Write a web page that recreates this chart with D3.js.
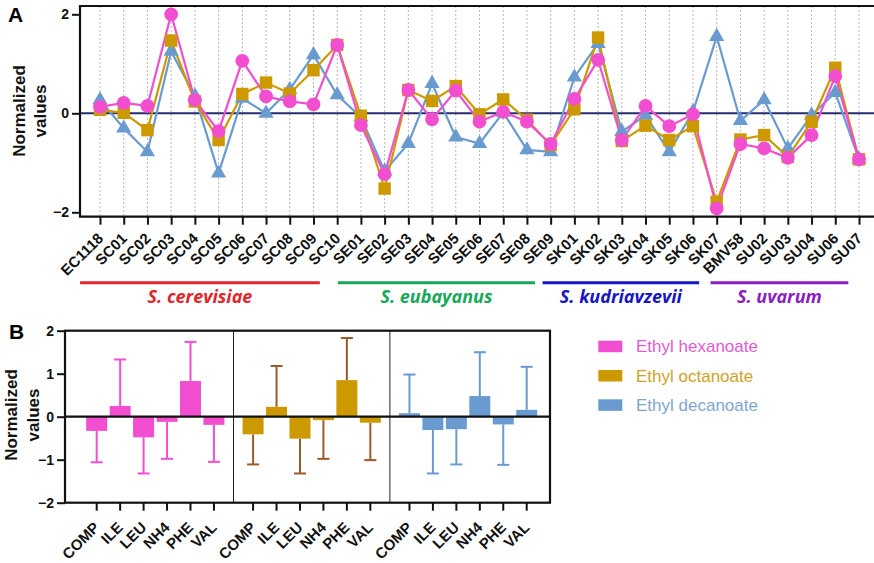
<!DOCTYPE html>
<html>
<head>
<meta charset="utf-8">
<script src="https://cdn.jsdelivr.net/npm/d3@7"></script>
<style>
  html, body { margin: 0; padding: 0; background: #fff; }
  svg { display: block; font-family: "Liberation Sans", Arial, sans-serif; }
</style>
</head>
<body>
<svg id="chart" width="874" height="563"></svg>
<script>
// ---------- Panel A data: normalized ester values per strain ----------
const strains = ["EC1118","SC01","SC02","SC03","SC04","SC05","SC06","SC07","SC08","SC09","SC10",
  "SE01","SE02","SE03","SE04","SE05","SE06","SE07","SE08","SE09",
  "SK01","SK02","SK03","SK04","SK05","SK06","SK07",
  "BMV58","SU02","SU03","SU04","SU06","SU07"];

const hexanoateA = [0.13,0.21,0.15,2.00,0.27,-0.36,1.06,0.34,0.24,0.18,1.38,
  -0.24,-1.23,0.47,-0.12,0.46,-0.17,0.03,-0.17,-0.62,
  0.29,1.08,-0.54,0.15,-0.26,-0.02,-1.92,
  -0.62,-0.71,-0.90,-0.44,0.75,-0.93];
const octanoateA = [0.07,0.01,-0.34,1.47,0.24,-0.54,0.39,0.62,0.40,0.87,1.38,
  -0.05,-1.52,0.47,0.25,0.55,-0.02,0.28,-0.13,-0.64,
  0.08,1.53,-0.56,-0.25,-0.54,-0.26,-1.79,
  -0.53,-0.44,-0.88,-0.17,0.92,-0.93];
const decanoateA = [0.27,-0.30,-0.78,1.25,0.35,-1.21,0.30,0.00,0.48,1.18,0.37,
  -0.08,-1.17,-0.61,0.60,-0.48,-0.61,0.02,-0.74,-0.78,
  0.73,1.41,-0.37,-0.04,-0.78,0.03,1.55,
  -0.15,0.27,-0.71,-0.04,0.42,-0.93];

const species = ["S. cerevisiae","S. eubayanus","S. kudriavzevii","S. uvarum"];
const yTicksA = [-2, 0, 2];

// ---------- Panel B data: mean ± SD per nitrogen source ----------
const nitrogen = ["COMP","ILE","LEU","NH4","PHE","VAL"];
const hexanoateMean = [-0.33,0.25,-0.48,-0.12,0.83,-0.19];
const hexanoateSD   = [0.73,1.08,0.84,0.86,0.91,0.86];
const octanoateMean = [-0.41,0.23,-0.51,-0.08,0.85,-0.14];
const octanoateSD   = [0.70,0.95,0.81,0.90,0.98,0.87];
const decanoateMean = [0.08,-0.31,-0.29,0.48,-0.18,0.16];
const decanoateSD   = [0.90,1.01,0.82,1.02,0.94,1.00];
const yTicksB = [-2,-1,0,1,2];

const esters = ["Ethyl hexanoate","Ethyl octanoate","Ethyl decanoate"];

// ---------- styling ----------
const C = {
  pink: "#F24FD0", gold: "#CC9A00", blue: "#6A9BD0",
  goldErr: "#9A5A2C", zero: "#262B6E", grid: "#b8b8b8"
};
const speciesColors = ["#E3262B", "#17A85A", "#1616C4", "#8B1FBE"];
const legendText = ["#E25AD3", "#CFA325", "#7FA5CE"];

const svg = d3.select("#chart");
const bold = "bold";

// =================== Panel A ===================
const A = { left: 80, right: 876, top: 6, bottom: 216.7 };
const xA = d3.scalePoint().domain(strains).range([100, 859]);
const yA = d3.scaleLinear().domain([-2, 2]).range([212.3, 14.3]);

const gA = svg.append("g");

// dotted vertical guides at each strain
gA.selectAll("line.grid").data(strains).enter().append("line")
  .attr("x1", d => xA(d)).attr("x2", d => xA(d))
  .attr("y1", A.top).attr("y2", A.bottom)
  .attr("stroke", C.grid).attr("stroke-width", 1).attr("stroke-dasharray", "2,2");

// zero reference line
gA.append("line").attr("x1", A.left).attr("x2", A.right)
  .attr("y1", yA(0)).attr("y2", yA(0))
  .attr("stroke", C.zero).attr("stroke-width", 2);

// frame: top, left, bottom
gA.append("path")
  .attr("d", `M${A.right},${A.top}H${A.left}V${A.bottom}H${A.right}`)
  .attr("fill", "none").attr("stroke", "#111").attr("stroke-width", 2.2);

// y axis ticks
const yAxisA = d3.axisLeft(yA).tickValues(yTicksA).tickSize(8).tickPadding(3).tickFormat(d3.format("d"));
gA.append("g").attr("transform", `translate(${A.left},0)`).call(yAxisA)
  .call(g => g.select(".domain").remove())
  .call(g => g.selectAll("line").attr("stroke", "#111").attr("stroke-width", 2))
  .call(g => g.selectAll("text").attr("font-size", 14).attr("font-weight", bold)
    .attr("fill", "#111").attr("font-family", "Liberation Sans, Arial, sans-serif"));

// x axis ticks with rotated strain labels
const xAxisA = d3.axisBottom(xA).tickSize(8).tickPadding(4);
gA.append("g").attr("transform", `translate(0,${A.bottom})`).call(xAxisA)
  .call(g => g.select(".domain").remove())
  .call(g => g.selectAll("line").attr("stroke", "#111").attr("stroke-width", 2))
  .call(g => g.selectAll("text")
    .attr("font-size", 15).attr("font-weight", bold).attr("fill", "#111")
    .attr("font-family", "Liberation Sans, Arial, sans-serif")
    .attr("text-anchor", "end").attr("dy", "0.35em")
    .attr("transform", "translate(0,19) rotate(-45)").attr("x", 0).attr("y", 0));

// series lines and markers (decanoate beneath, hexanoate on top)
const lineA = d3.line().x((d, i) => xA(strains[i])).y(d => yA(d));
const seriesA = [
  { vals: decanoateA, color: C.blue, shape: d3.symbolTriangle, size: 100 },
  { vals: octanoateA, color: C.gold, shape: d3.symbolSquare, size: 155 },
  { vals: hexanoateA, color: C.pink, shape: d3.symbolCircle, size: 150 }
];
seriesA.forEach(s => {
  gA.append("path").datum(s.vals).attr("d", lineA)
    .attr("fill", "none").attr("stroke", s.color).attr("stroke-width", 2.2);
});
seriesA.forEach(s => {
  gA.selectAll(null).data(s.vals).enter().append("path")
    .attr("d", d3.symbol().type(s.shape).size(s.size))
    .attr("transform", (d, i) => `translate(${xA(strains[i])},${yA(d)})`)
    .attr("fill", s.color);
});

// species grouping bars under the strain labels
const speciesSpan = [[-0.84, 9.27], [10.03, 18.34], [18.66, 25.26], [25.74, 31.55]];
const idxToX = d3.scaleLinear().domain([0, strains.length - 1]).range(xA.range());
species.forEach((name, i) => {
  const x1 = idxToX(speciesSpan[i][0]), x2 = idxToX(speciesSpan[i][1]);
  svg.append("line").attr("x1", x1).attr("x2", x2).attr("y1", 282.7).attr("y2", 282.7)
    .attr("stroke", speciesColors[i]).attr("stroke-width", 3);
  svg.append("text").attr("x", (x1 + x2) / 2).attr("y", 302.5)
    .attr("text-anchor", "middle").attr("fill", speciesColors[i])
    .attr("font-family", "Open Sans, sans-serif").attr("font-size", 18)
    .attr("font-weight", bold).attr("font-style", "italic").text(name);
});

// panel letter and y title
svg.append("text").attr("x", 8).attr("y", 22).attr("font-size", 21).attr("font-weight", bold).text("A");
const yTitleA = svg.append("text").attr("transform", "translate(0,111) rotate(-90)")
  .attr("text-anchor", "middle").attr("font-size", 17).attr("font-weight", bold).attr("fill", "#111");
yTitleA.append("tspan").attr("x", 0).attr("y", 25).text("Normalized");
yTitleA.append("tspan").attr("x", 0).attr("y", 46).text("values");

// =================== Panel B ===================
const B = { left: 65, right: 550, top: 330.7, bottom: 502.7 };
const yB = d3.scaleLinear().domain([-2, 2]).range([B.bottom, B.top]);
const gap = 0.67;                      // extra spacing between ester blocks (in category slots)
const stride = nitrogen.length + gap;
const xB = d3.scaleLinear().domain([0, 2 * stride + nitrogen.length - 1]).range([96.7, 526.7]);
const barW = 21;

const gB = svg.append("g");

const groupsB = [
  { mean: hexanoateMean, sd: hexanoateSD, color: C.pink, err: C.pink },
  { mean: octanoateMean, sd: octanoateSD, color: C.gold, err: C.goldErr },
  { mean: decanoateMean, sd: decanoateSD, color: C.blue, err: C.blue }
];

groupsB.forEach((grp, g) => {
  const pos = i => xB(g * stride + i);
  // error bars drawn away from zero
  grp.mean.forEach((m, i) => {
    const end = m >= 0 ? m + grp.sd[i] : m - grp.sd[i];
    gB.append("line").attr("x1", pos(i)).attr("x2", pos(i))
      .attr("y1", yB(m)).attr("y2", yB(end))
      .attr("stroke", grp.err).attr("stroke-width", 2);
    gB.append("line").attr("x1", pos(i) - 6).attr("x2", pos(i) + 6)
      .attr("y1", yB(end)).attr("y2", yB(end))
      .attr("stroke", grp.err).attr("stroke-width", 2);
  });
  gB.selectAll(null).data(grp.mean).enter().append("rect")
    .attr("x", (d, i) => pos(i) - barW / 2).attr("width", barW)
    .attr("y", d => yB(Math.max(0, d)))
    .attr("height", d => Math.abs(yB(d) - yB(0)))
    .attr("fill", grp.color);
  // x ticks and labels
  const xg = gB.append("g").attr("transform", `translate(0,${B.bottom})`);
  nitrogen.forEach((n, i) => {
    xg.append("line").attr("x1", pos(i)).attr("x2", pos(i)).attr("y1", 0).attr("y2", 8)
      .attr("stroke", "#111").attr("stroke-width", 2);
    xg.append("text").attr("transform", `translate(${pos(i)},${22}) rotate(-45)`)
      .attr("text-anchor", "end").attr("dy", "0.35em")
      .attr("font-size", 15).attr("font-weight", bold).attr("fill", "#111").text(n);
  });
});

// dividers between ester blocks
[0, 1].forEach(g => {
  const xm = xB(g * stride + nitrogen.length - 1 + (gap + 1) / 2);
  gB.append("line").attr("x1", xm).attr("x2", xm).attr("y1", B.top).attr("y2", B.bottom)
    .attr("stroke", "#222").attr("stroke-width", 1);
});

// zero line
gB.append("line").attr("x1", B.left).attr("x2", B.right).attr("y1", yB(0)).attr("y2", yB(0))
  .attr("stroke", "#111").attr("stroke-width", 2.2);

// frame
gB.append("rect").attr("x", B.left).attr("y", B.top)
  .attr("width", B.right - B.left).attr("height", B.bottom - B.top)
  .attr("fill", "none").attr("stroke", "#111").attr("stroke-width", 2.2);

// y axis
const yAxisB = d3.axisLeft(yB).tickValues(yTicksB).tickSize(8).tickPadding(3).tickFormat(d3.format("d"));
gB.append("g").attr("transform", `translate(${B.left},0)`).call(yAxisB)
  .call(g => g.select(".domain").remove())
  .call(g => g.selectAll("line").attr("stroke", "#111").attr("stroke-width", 2))
  .call(g => g.selectAll("text").attr("font-size", 14).attr("font-weight", bold)
    .attr("fill", "#111").attr("font-family", "Liberation Sans, Arial, sans-serif"));

// legend
const legendColors = [C.pink, C.gold, C.blue];
esters.forEach((name, i) => {
  const y = 340.7 + i * 29.3;
  svg.append("rect").attr("x", 598.3).attr("y", y).attr("width", 24).attr("height", 11.5)
    .attr("fill", legendColors[i]);
  svg.append("text").attr("x", 636).attr("y", y + 11.5).attr("font-size", 17)
    .attr("fill", legendText[i]).text(name);
});

// panel letter and y title
svg.append("text").attr("x", 9).attr("y", 339).attr("font-size", 21).attr("font-weight", bold).text("B");
const yTitleB = svg.append("text").attr("transform", "translate(0,415) rotate(-90)")
  .attr("text-anchor", "middle").attr("font-size", 17).attr("font-weight", bold).attr("fill", "#111");
yTitleB.append("tspan").attr("x", 0).attr("y", 17).text("Normalized");
yTitleB.append("tspan").attr("x", 0).attr("y", 39).text("values");
</script>
</body>
</html>
